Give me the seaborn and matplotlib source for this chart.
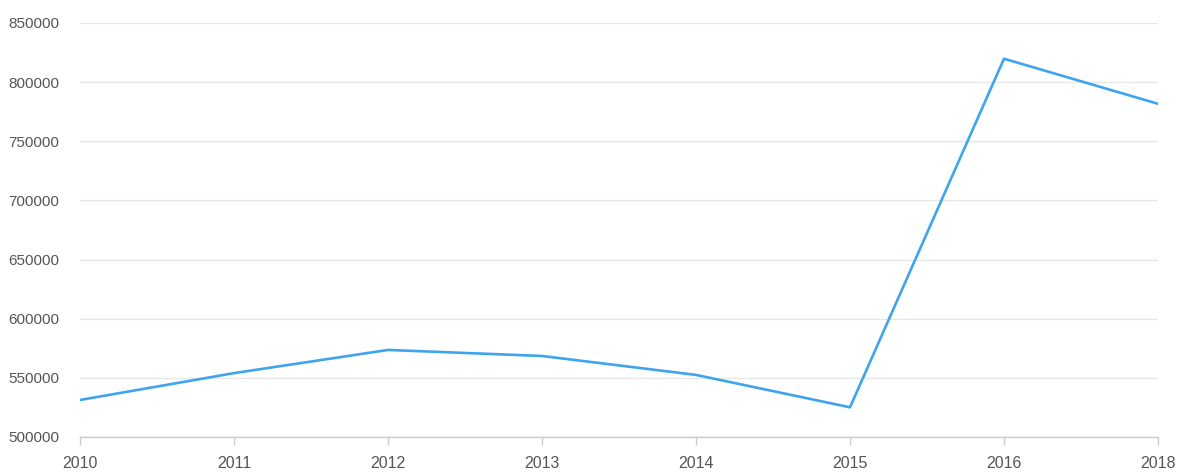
import matplotlib
matplotlib.use("Agg")
import matplotlib.pyplot as plt
import seaborn as sns
import pandas as pd

years = ["2010", "2011", "2012", "2013", "2014", "2015", "2016", "2018"]
values = [531300, 554000, 573600, 568500, 552500, 525100, 819800, 781700]
y_ticks = [500000, 550000, 600000, 650000, 700000, 750000, 800000, 850000]

sns.set_theme(style="white")
plt.rcParams['font.family'] = ['Liberation Sans', 'DejaVu Sans']

df = pd.DataFrame({"year": years, "value": values})

fig = plt.figure(figsize=(11.8, 4.75), dpi=100)
ax = fig.add_axes([80/1180, 1-437/475, (1158-80)/1180, (437-23)/475])

sns.lineplot(data=df, x="year", y="value", ax=ax, sort=False,
             color="#3fa4ee", linewidth=1.9)

ax.set_xlim(0, len(years) - 1)
ax.set_ylim(y_ticks[0], y_ticks[-1])
ax.set_yticks(y_ticks)
ax.set_yticklabels([str(v) for v in y_ticks])
ax.set_xticks(range(len(years)))
ax.set_xticklabels(years)

ax.grid(axis="y", color="#e6e6e6", linewidth=1)
ax.set_axisbelow(True)
for s in ["top", "right", "left"]:
    ax.spines[s].set_visible(False)
ax.spines["bottom"].set_color("#cccccc")
ax.spines["bottom"].set_linewidth(1)

ax.tick_params(axis="x", which="both", bottom=True, length=6, width=1,
               color="#cccccc", pad=8, labelsize=11.5, labelcolor="#555555")
ax.tick_params(axis="y", length=0, pad=15, labelsize=11, labelcolor="#555555")
ax.set_xlabel("")
ax.set_ylabel("")

fig.savefig("out.png", dpi=100)
